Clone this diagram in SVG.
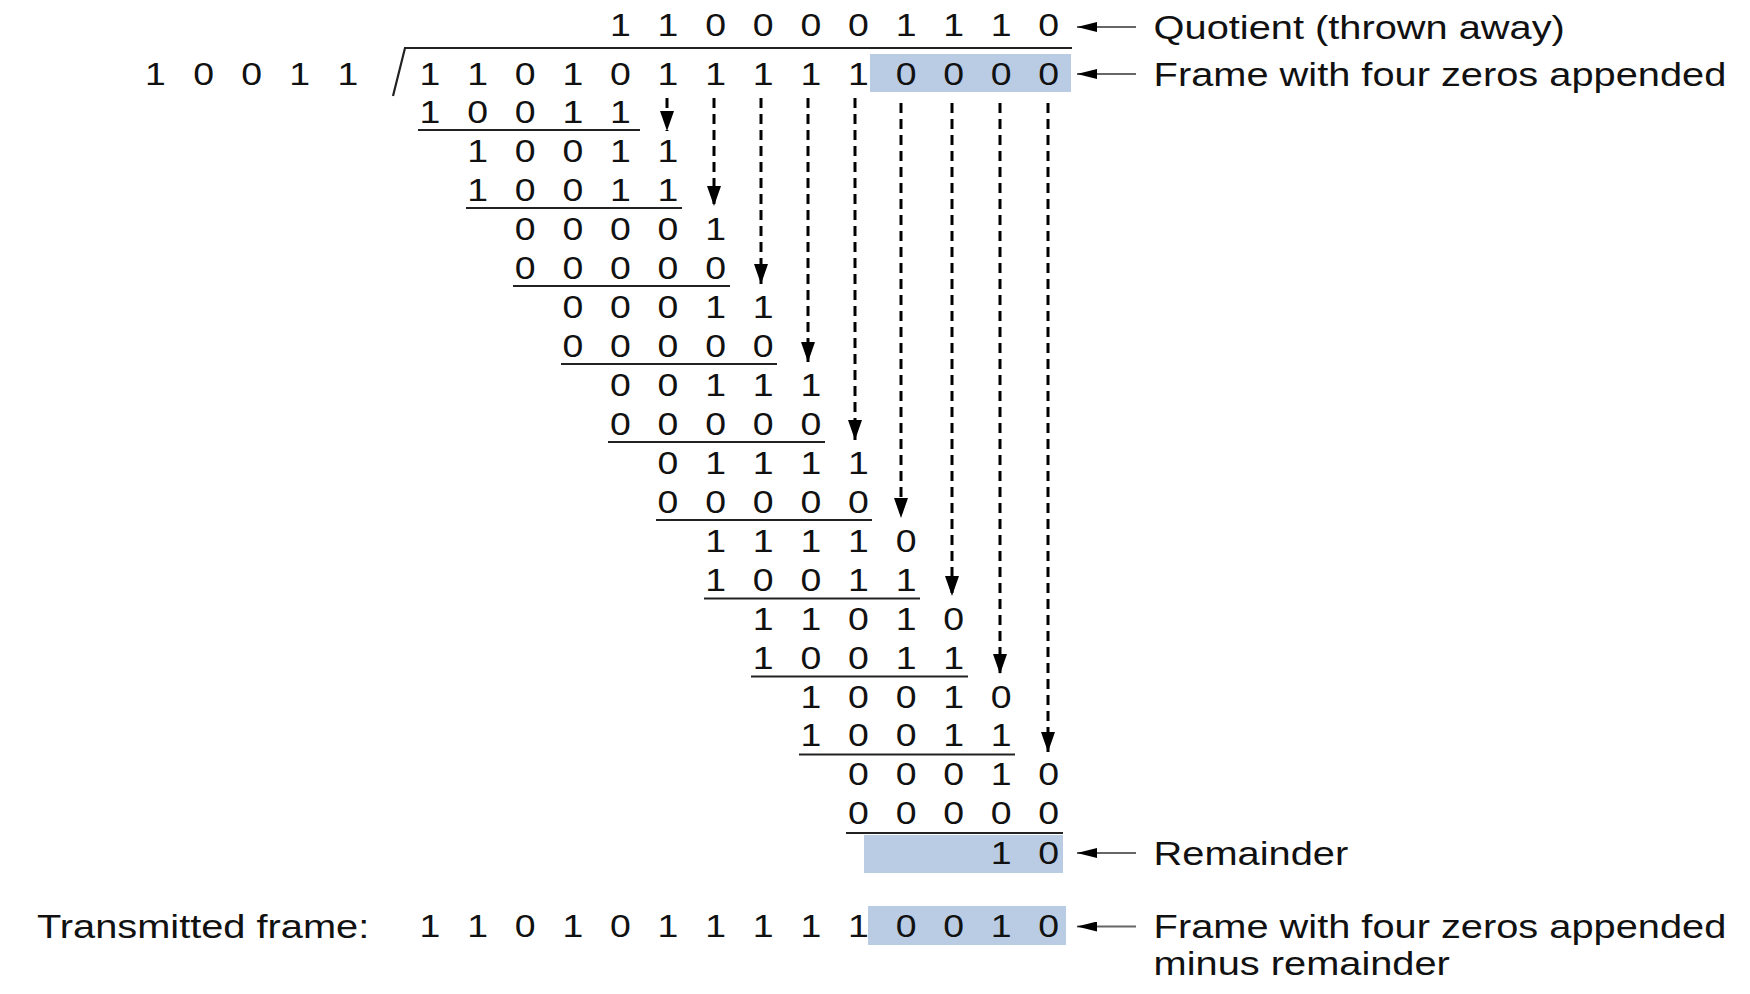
<svg xmlns="http://www.w3.org/2000/svg" width="1750" height="994" viewBox="0 0 1750 994">
<style>
.d{font-family:"Liberation Sans",Arial,sans-serif;font-size:32px;text-anchor:middle;fill:#111}
.l{font-family:"Liberation Sans",Arial,sans-serif;font-size:34px;fill:#111}
.ul{stroke:#222;stroke-width:2.2}
.hl{fill:#b9cce4}
.bring{stroke:#000;stroke-width:3;stroke-dasharray:10 6;fill:none;marker-end:url(#ah)}
.lab{stroke:#666;stroke-width:2;marker-end:url(#ah2)}
</style>
<defs>
<marker id="ah" markerUnits="userSpaceOnUse" markerWidth="14" markerHeight="20" refX="7" refY="20" orient="0" viewBox="0 0 14 20"><path d="M0,0 L14,0 L7,20 z" fill="#000"/></marker>
<marker id="ah2" markerUnits="userSpaceOnUse" markerWidth="20" markerHeight="10" refX="0" refY="5" orient="0" viewBox="0 0 20 10"><path d="M20,0 L0,5 L20,10 z" fill="#000"/></marker>
</defs>
<rect width="1750" height="994" fill="#fff"/>
<g id="highlights">
<rect class="hl" x="870" y="54" width="201" height="38"/>
<rect class="hl" x="864" y="835" width="199" height="38"/>
<rect class="hl" x="868" y="906" width="198" height="39"/>
</g>
<g id="bracket" fill="none" stroke="#222" stroke-width="2.2">
<path d="M393,96 L405,48 L1072,48"/>
</g>
<g id="underlines">
<line class="ul" x1="418" y1="130" x2="640" y2="130"/>
<line class="ul" x1="466" y1="208" x2="682" y2="208"/>
<line class="ul" x1="513" y1="286" x2="730" y2="286"/>
<line class="ul" x1="561" y1="364" x2="777" y2="364"/>
<line class="ul" x1="608" y1="442" x2="825" y2="442"/>
<line class="ul" x1="656" y1="520" x2="872" y2="520"/>
<line class="ul" x1="704" y1="598.5" x2="920" y2="598.5"/>
<line class="ul" x1="751" y1="676.5" x2="968" y2="676.5"/>
<line class="ul" x1="799" y1="754.5" x2="1015" y2="754.5"/>
<line class="ul" x1="846" y1="833" x2="1063" y2="833"/>
</g>
<g id="quotient" transform="scale(1.17 1)"><text class="d" y="36" x="530.3 570.9 611.6 652.3 693.0 733.7 774.4 815.0 855.7 896.4">1100001110</text></g>
<g id="divisor" transform="scale(1.17 1)"><text class="d" y="85" x="132.9 174 215.1 256.2 297.3">10011</text></g>
<g id="dividend" transform="scale(1.17 1)"><text class="d" y="85" x="367.5 408.2 448.9 489.6 530.3 570.9 611.6 652.3 693.0 733.7 774.4 815.0 855.7 896.4">11010111110000</text></g>
<g id="steps" transform="scale(1.17 1)">
<text class="d" y="123" x="367.5 408.2 448.9 489.6 530.3">10011</text>
<text class="d" y="162" x="408.2 448.9 489.6 530.3 570.9">10011</text>
<text class="d" y="201" x="408.2 448.9 489.6 530.3 570.9">10011</text>
<text class="d" y="240" x="448.9 489.6 530.3 570.9 611.6">00001</text>
<text class="d" y="279" x="448.9 489.6 530.3 570.9 611.6">00000</text>
<text class="d" y="318" x="489.6 530.3 570.9 611.6 652.3">00011</text>
<text class="d" y="357" x="489.6 530.3 570.9 611.6 652.3">00000</text>
<text class="d" y="396" x="530.3 570.9 611.6 652.3 693.0">00111</text>
<text class="d" y="435" x="530.3 570.9 611.6 652.3 693.0">00000</text>
<text class="d" y="474" x="570.9 611.6 652.3 693.0 733.7">01111</text>
<text class="d" y="513" x="570.9 611.6 652.3 693.0 733.7">00000</text>
<text class="d" y="552" x="611.6 652.3 693.0 733.7 774.4">11110</text>
<text class="d" y="591" x="611.6 652.3 693.0 733.7 774.4">10011</text>
<text class="d" y="630" x="652.3 693.0 733.7 774.4 815.0">11010</text>
<text class="d" y="669" x="652.3 693.0 733.7 774.4 815.0">10011</text>
<text class="d" y="708" x="693.0 733.7 774.4 815.0 855.7">10010</text>
<text class="d" y="746.5" x="693.0 733.7 774.4 815.0 855.7">10011</text>
<text class="d" y="785.5" x="733.7 774.4 815.0 855.7 896.4">00010</text>
<text class="d" y="824" x="733.7 774.4 815.0 855.7 896.4">00000</text>
</g>
<g id="remainder" transform="scale(1.17 1)"><text class="d" y="864.5" x="855.7 896.4">10</text></g>
<g id="transmitted" transform="scale(1.17 1)">
<text class="l" x="31.6" y="938">Transmitted frame:</text>
<text class="d" y="937.5" x="367.5 408.2 448.9 489.6 530.3 570.9 611.6 652.3 693.0 733.7 774.4 815.0 855.7 896.4">11010111110010</text>
</g>
<g id="labels" transform="scale(1.17 1)">
<text class="l" x="986" y="39">Quotient (thrown away)</text>
<text class="l" x="986" y="86">Frame with four zeros appended</text>
<text class="l" x="986" y="865">Remainder</text>
<text class="l" x="986" y="938.5">Frame with four zeros appended</text>
<text class="l" x="986" y="975">minus remainder</text>
</g>
<g id="connectors">
<line class="lab" x1="1136" y1="27" x2="1077" y2="27"/>
<line class="lab" x1="1136" y1="74" x2="1077" y2="74"/>
<line class="lab" x1="1136" y1="853" x2="1077" y2="853"/>
<line class="lab" x1="1136" y1="926.5" x2="1077" y2="926.5"/>
<line class="bring" x1="667" y1="98" x2="667" y2="131"/>
<line class="bring" x1="714" y1="98" x2="714" y2="206"/>
<line class="bring" x1="761" y1="98" x2="761" y2="284"/>
<line class="bring" x1="808" y1="98" x2="808" y2="362"/>
<line class="bring" x1="855" y1="98" x2="855" y2="440"/>
<line class="bring" x1="901" y1="103" x2="901" y2="518"/>
<line class="bring" x1="952" y1="103" x2="952" y2="596"/>
<line class="bring" x1="1000" y1="103" x2="1000" y2="674"/>
<line class="bring" x1="1048" y1="103" x2="1048" y2="752"/>
</g>
</svg>
